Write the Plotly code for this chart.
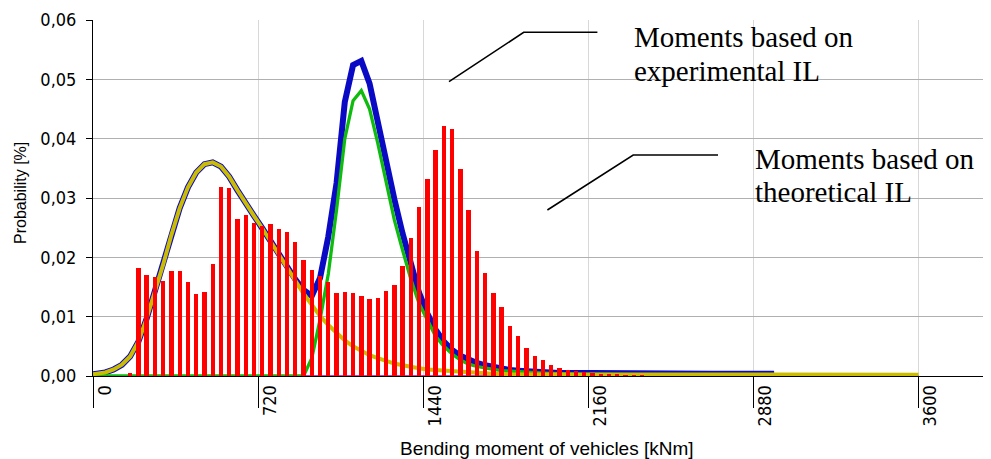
import plotly.graph_objects as go

# ---------------- data ----------------
bin_centers = [162, 198, 234, 270, 306, 342, 378, 414, 450, 486, 522, 558, 594, 630, 666, 702,
               738, 774, 810, 846, 882, 918, 954, 990, 1026, 1062, 1098, 1134, 1170, 1206, 1242,
               1278, 1314, 1350, 1386, 1422, 1458, 1494, 1530, 1566, 1602, 1638, 1674, 1710, 1746,
               1782, 1818, 1854, 1890, 1926, 1962, 1998, 2034, 2070, 2106, 2142, 2178, 2214, 2250,
               2286, 2322, 2358, 2394]
bar_probability = [0.00056, 0.01815, 0.01702, 0.01663, 0.01596, 0.01764, 0.0177, 0.01579, 0.01382,
                   0.01416, 0.01882, 0.03186, 0.03163, 0.02641, 0.02714, 0.02579, 0.02528, 0.02562,
                   0.02478, 0.02427, 0.02259, 0.01955, 0.01792, 0.01685, 0.01584, 0.01399, 0.01416,
                   0.01399, 0.01348, 0.01298, 0.01315, 0.01427, 0.01534, 0.01854, 0.02326, 0.02848,
                   0.0332, 0.03809, 0.04214, 0.04158, 0.03484, 0.02798, 0.02107, 0.01731, 0.01399,
                   0.01163, 0.00843, 0.0068, 0.00478, 0.00343, 0.00264, 0.0018, 0.0013, 0.00096,
                   0.00079, 0.0006, 0.0005, 0.0004, 0.0003, 0.0002, 0.00015, 0.0001, 0.00008]

yellow_x = [0, 18, 54, 90, 126, 162, 198, 234, 270, 306, 342, 378, 414, 450, 486, 522, 558, 594,
            630, 666, 702, 738, 774, 810, 846, 882, 918, 954, 990, 1026, 1062, 1098, 1134, 1170,
            1206, 1242, 1278, 1314, 1350, 1386, 1422, 1458, 1494, 1530, 1602, 1674, 1746, 1818,
            1926, 2034, 2178, 2400, 2800, 3200, 3600]
yellow_y = [0.0003, 0.0004, 0.0006, 0.0011, 0.0019, 0.0033, 0.0058, 0.0097, 0.0142, 0.0188, 0.0238,
            0.0283, 0.0318, 0.0343, 0.0357, 0.0360, 0.0353, 0.0336, 0.0313, 0.0290, 0.0270, 0.0249,
            0.0227, 0.0204, 0.0182, 0.0160, 0.0139, 0.0120, 0.0101, 0.0086, 0.0072, 0.0060, 0.0050,
            0.0042, 0.0035, 0.0030, 0.0025, 0.0021, 0.0018, 0.0015, 0.0013, 0.0011, 0.0010, 0.0009,
            0.0007, 0.0005, 0.0004, 0.0003, 0.0003, 0.0002, 0.0002, 0.0002, 0.0002, 0.0002, 0.0002]

blue_x = [0, 18, 54, 90, 126, 162, 198, 234, 270, 306, 342, 378, 414, 450, 486, 522, 558, 594,
          630, 666, 702, 738, 774, 810, 846, 882, 918, 954, 990, 1026, 1062, 1098, 1134, 1170,
          1206, 1242, 1278, 1314, 1350, 1386, 1422, 1458, 1494, 1530, 1566, 1602, 1638, 1674,
          1710, 1746, 1782, 1818, 1854, 1926, 2034, 2178, 2400, 2700, 2970]
blue_y = [0.0003, 0.0004, 0.0006, 0.0011, 0.0019, 0.0033, 0.0058, 0.0097, 0.0142, 0.0188, 0.0238,
          0.0283, 0.0318, 0.0343, 0.0357, 0.0360, 0.0353, 0.0336, 0.0313, 0.0290, 0.0270, 0.0249,
          0.0227, 0.0205, 0.0184, 0.0163, 0.0145, 0.0135, 0.0165, 0.0235, 0.0325, 0.0462, 0.0524,
          0.0531, 0.0493, 0.0425, 0.0360, 0.0298, 0.0240, 0.0185, 0.0140, 0.0105, 0.0078, 0.0058,
          0.0044, 0.0034, 0.0027, 0.0022, 0.0018, 0.0015, 0.0012, 0.0010, 0.0009, 0.0007, 0.0005,
          0.0005, 0.0004, 0.0004, 0.0004]

green_x = [0, 918, 954, 990, 1026, 1062, 1098, 1134, 1170, 1206, 1242, 1278, 1314, 1350, 1386,
           1422, 1458, 1494, 1530, 1566, 1602, 1638, 1674, 1710, 1746, 1782, 1854, 1962, 2106,
           2300, 2520]
green_y = [0.0, 0.0, 0.0030, 0.0095, 0.0172, 0.0280, 0.0400, 0.0464, 0.0481, 0.0450, 0.0392,
           0.0330, 0.0263, 0.0212, 0.0163, 0.0122, 0.0093, 0.0067, 0.0050, 0.0037, 0.0027, 0.0020,
           0.0016, 0.0013, 0.0011, 0.0009, 0.0007, 0.0005, 0.0003, 0.0003, 0.0002]

zero_x = [0, 3600]
zero_y = [0, 0]

x_ticks = [0, 720, 1440, 2160, 2880, 3600]
x_tick_text = ["0", "720", "1440", "2160", "2880", "3600"]
y_ticks = [0.0, 0.01, 0.02, 0.03, 0.04, 0.05, 0.06]

# ---------------- layout helpers ----------------
# the page body has an 8 px margin, so the figure starts at (8, 8) in the window
OFF = 8
W, H = 991 - OFF, 459 - OFF
ML, MR, MT = 93 - OFF, 1, 20 - OFF
PH = 356
MB = H - MT - PH
PW = W - ML - MR
X_MAX = 3600 * PW / 825.6


def px_x(p):
    # window pixel -> paper x
    return (p - OFF - ML) / PW


def px_y(p):
    # window pixel -> paper y
    return (MT + PH - (p - OFF)) / PH


fig = go.Figure()

fig.add_trace(go.Scatter(x=zero_x, y=zero_y, mode="lines",
                         line=dict(color="#b000b0", width=1.5), hoverinfo="skip"))
fig.add_trace(go.Scatter(x=blue_x, y=blue_y, mode="lines",
                         line=dict(color="#0a0ac4", width=6), hoverinfo="skip"))
fig.add_trace(go.Scatter(x=green_x, y=green_y, mode="lines",
                         line=dict(color="#10bb10", width=3.3), hoverinfo="skip"))
fig.add_trace(go.Scatter(x=yellow_x, y=yellow_y, mode="lines",
                         line=dict(color="#cbbc00", width=4), hoverinfo="skip"))
fig.add_trace(go.Bar(x=bin_centers, y=bar_probability, width=19, marker_color="#ff0000",
                     marker_line_width=0, yaxis="y2", hoverinfo="skip"))

tick_font = dict(family="DejaVu Sans Condensed, DejaVu Sans", size=18, color="#000000")

fig.update_layout(
    width=W, height=H,
    margin=dict(l=ML, r=MR, t=MT, b=MB, pad=0),
    paper_bgcolor="white", plot_bgcolor="white",
    showlegend=False,
    separators=",.",
    bargap=0,
    xaxis=dict(range=[0, X_MAX], tickvals=x_ticks, ticktext=x_tick_text, tickangle=-90,
               ticks="outside", ticklen=31, tickwidth=1, tickcolor="#000000",
               showline=True, linecolor="#000000", linewidth=1,
               showgrid=True, gridcolor="#d8d8d8", gridwidth=1, zeroline=False,
               tickfont=tick_font, ticklabelshift=12, ticklabelstandoff=-30),
    yaxis=dict(range=[0, 0.06], tickvals=y_ticks, tickformat=".2f",
               ticks="outside", ticklen=6, tickwidth=1, tickcolor="#000000",
               showline=True, linecolor="#000000", linewidth=1,
               showgrid=True, gridcolor="#b0b0b0", gridwidth=1, zeroline=False,
               tickfont=tick_font, ticklabelstandoff=6),
    yaxis2=dict(range=[0, 0.06], overlaying="y", visible=False, showgrid=False),
)

annotations = [
    dict(text="Probability [%]", textangle=-90, x=px_x(20), y=px_y(193),
         font=dict(family="Liberation Sans, Arial", size=16, color="#000000")),
    dict(text="Bending moment of vehicles [kNm]", x=px_x(546.5), y=px_y(448),
         font=dict(family="Liberation Sans, Arial", size=19, color="#000000")),
    dict(text="Moments based on", x=px_x(632), y=px_y(36.7), xanchor="left",
         font=dict(family="Liberation Serif, Times New Roman", size=29, color="#000000")),
    dict(text="experimental IL", x=px_x(632), y=px_y(70.7), xanchor="left",
         font=dict(family="Liberation Serif, Times New Roman", size=29, color="#000000")),
    dict(text="Moments based on", x=px_x(753), y=px_y(158.7), xanchor="left",
         font=dict(family="Liberation Serif, Times New Roman", size=29, color="#000000")),
    dict(text="theoretical IL", x=px_x(753), y=px_y(192.4), xanchor="left",
         font=dict(family="Liberation Serif, Times New Roman", size=29, color="#000000")),
]
for a in annotations:
    a.update(xref="paper", yref="paper", showarrow=False)
    a.setdefault("xanchor", "center")
    a.setdefault("yanchor", "middle")
fig.update_layout(annotations=annotations)


def leader(points):
    d = "M " + " L ".join(f"{px_x(a)},{px_y(b)}" for a, b in points)
    return dict(type="path", path=d, xref="paper", yref="paper",
                line=dict(color="#000000", width=1.6))


fig.update_layout(shapes=[
    leader([(449, 81.7), (523.7, 32.3), (597.4, 32.3)]),
    leader([(547.4, 210), (633.2, 155), (718, 155)]),
])

fig.write_html("out.html")
